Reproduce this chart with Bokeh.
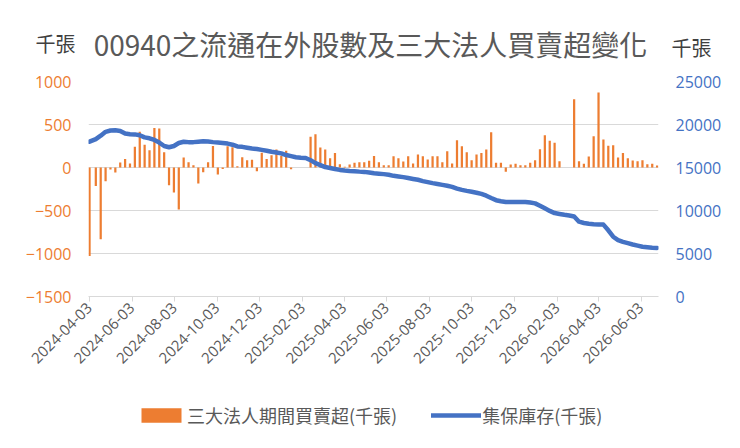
import pandas as pd
from bokeh.plotting import figure
from bokeh.layouts import column
from bokeh.models import (Range1d, LinearAxis, FixedTicker, Label, Legend, LegendItem,
                          DatetimeTickFormatter, ColumnDataSource)
from bokeh.embed import file_html
from bokeh.resources import INLINE

# ---- data ----
first_date = "2024-04-03"
weekly_start = "2024-04-12"
n_weekly = 116

net_buy = [-1030, -215, -835, -160, -23, -58, 58, 100, 47, 240,
           415, 264, 202, 460, 453, 177, -205, -292, -488, 117,
           60, 25, -186, -54, 62, 249, -80, -18, 246, 236,
           15, 118, 85, 90, -43, 172, 98, 143, 210, 137,
           196, -20, 0, 0, 0, 357, 388, 233, 210, 109,
           170, 39, 10, 35, 54, 60, 60, 78, 134, 62,
           25, 27, 132, 109, 70, 132, 47, 151, 132, 93,
           132, 132, 62, 190, 47, 318, 248, 178, 85, 151,
           170, 209, 411, 54, 54, -50, 35, 43, 27, 27,
           54, 85, 213, 376, 310, 287, 74, 0, 0, 795,
           74, 43, 128, 364, 872, 326, 252, 260, 116, 170,
           109, 81, 74, 85, 39, 43, 23]

holdings = [18000, 18300, 18700, 19150, 19300, 19330, 19250, 18950, 18870, 18850,
            18750, 18500, 18400, 18200, 17900, 17500, 17350, 17500, 17850, 18000,
            17950, 17950, 18000, 18050, 18020, 17950, 17900, 17850, 17780, 17650,
            17450, 17400, 17300, 17210, 17150, 17050, 16950, 16830, 16750, 16640,
            16450, 16320, 16200, 16130, 16100, 15850, 15500, 15270, 15050, 14950,
            14830, 14720, 14650, 14600, 14570, 14520, 14490, 14420, 14330, 14280,
            14230, 14150, 14030, 13950, 13880, 13780, 13670, 13570, 13420, 13300,
            13180, 13080, 12980, 12880, 12750, 12550, 12400, 12280, 12180, 12070,
            11930, 11720, 11450, 11200, 11080, 11000, 11000, 11000, 11000, 10990,
            10920, 10830, 10550, 10250, 9950, 9700, 9600, 9500, 9420, 9300,
            8700, 8550, 8450, 8400, 8380, 8360, 7700, 6950, 6550, 6350,
            6200, 6050, 5920, 5780, 5720, 5670, 5650]

tick_labels = ["2024-04-03", "2024-06-03", "2024-08-03", "2024-10-03", "2024-12-03",
               "2025-02-03", "2025-04-03", "2025-06-03", "2025-08-03", "2025-10-03",
               "2025-12-03", "2026-02-03", "2026-04-03", "2026-06-03"]

left_ticks = [-1500, -1000, -500, 0, 500, 1000]
right_ticks = [0, 5000, 10000, 15000, 20000, 25000]

title_text = "00940之流通在外股數及三大法人買賣超變化"
unit_text = "千張"
bar_name = "三大法人期間買賣超(千張)"
line_name = "集保庫存(千張)"

# ---- styles ----
ORANGE = "#ED7D31"
BLUE = "#4472C4"
GRID = "#D9D9D9"
TXT = "#595959"
CJK = "Noto Sans CJK TC"
NUM = "Open Sans"
W = 724
HEAD_H = 69
MAIN_TOP = 12
MAIN_H = 312
FOOT_H = 51


def bare(height):
    f = figure(width=W, height=height, output_backend="svg", toolbar_location=None,
               x_range=Range1d(0, W), y_range=Range1d(0, height),
               x_axis_location=None, y_axis_location=None, min_border=0)
    f.outline_line_color = None
    f.xgrid.visible = False
    f.ygrid.visible = False
    f.frame_align = False
    return f


# ---- header (title + units) ----
head = bare(HEAD_H)
head.add_layout(Label(x=370, y=HEAD_H - 43, text=title_text, text_font=CJK,
                      text_font_size="28px", text_color=TXT,
                      text_align="center", text_baseline="middle"))
head.add_layout(Label(x=55, y=HEAD_H - 43, text=unit_text, text_font=CJK,
                      text_font_size="20px", text_color="#404040",
                      text_align="center", text_baseline="middle"))
head.add_layout(Label(x=691, y=HEAD_H - 47, text=unit_text, text_font=CJK,
                      text_font_size="20px", text_color="#404040",
                      text_align="center", text_baseline="middle"))

# ---- main chart ----
dates = [pd.Timestamp(first_date)] + list(pd.date_range(weekly_start, periods=n_weekly, freq="7D"))
src = ColumnDataSource(dict(date=dates, net=net_buy, hold=holdings))

day = pd.Timedelta(days=1)
bar_w = 3.2 * 24 * 3600 * 1000
p = figure(width=W, height=MAIN_H, x_axis_type="datetime", output_backend="svg",
           toolbar_location=None,
           x_range=Range1d(dates[0] - 1.5 * day, dates[-1] + 2 * day),
           y_range=Range1d(left_ticks[0], left_ticks[-1]),
           min_border_left=88, min_border_right=64, min_border_top=MAIN_TOP,
           min_border_bottom=85)
p.extra_y_ranges = {"right": Range1d(right_ticks[0], right_ticks[-1])}
p.outline_line_color = None
p.frame_align = False

bar_style = dict(fill_color=ORANGE, line_color=None)
line_style = dict(line_color=BLUE, line_width=4.5, line_cap="round", line_join="round")

p.vbar(x="date", top="net", bottom=0, width=bar_w, source=src, **bar_style)
p.line(x="date", y="hold", source=src, y_range_name="right", **line_style)

xa = p.xaxis[0]
xa.ticker = FixedTicker(ticks=[pd.Timestamp(t).value // 10**6 for t in tick_labels])
xa.formatter = DatetimeTickFormatter(days="%Y-%m-%d", months="%Y-%m-%d", years="%Y-%m-%d")
xa.major_label_orientation = 0.785398
xa.major_label_text_font = NUM
xa.major_label_text_font_size = "15px"
xa.major_label_text_color = TXT
xa.axis_line_color = GRID
xa.major_tick_line_color = GRID
xa.major_tick_in = 0
xa.major_tick_out = 5
xa.minor_tick_line_color = None
xa.major_label_standoff = 4

for ax, ticks, color, name in ((p.yaxis[0], left_ticks, ORANGE, None),
                               (LinearAxis(y_range_name="right"), right_ticks, BLUE, "right")):
    ax.ticker = FixedTicker(ticks=ticks)
    ax.major_label_text_color = color
    ax.major_label_text_font = NUM
    ax.major_label_text_font_size = "16px"
    ax.axis_line_color = None
    ax.major_tick_line_color = None
    ax.minor_tick_line_color = None
    ax.major_tick_in = 0
    ax.major_tick_out = 0
    ax.minor_tick_in = 0
    ax.minor_tick_out = 0
    ax.major_label_standoff = 17
    if name:
        p.add_layout(ax, "right")

p.xgrid.grid_line_color = None
p.ygrid.grid_line_color = GRID
p.ygrid.grid_line_width = 1
p.ygrid.ticker = FixedTicker(ticks=left_ticks)

# ---- footer (legend); same data, drawn far outside this strip's ranges ----
foot = bare(FOOT_H)
lb = foot.vbar(x="date", top="net", bottom=0, width=bar_w, source=src, **bar_style)
ll = foot.line(x="date", y="hold", source=src, **line_style)
legend = Legend(items=[LegendItem(label=bar_name, renderers=[lb]),
                       LegendItem(label=line_name, renderers=[ll])],
                orientation="horizontal", location=(136, 4))
legend.label_text_font = CJK
legend.label_text_font_size = "18px"
legend.label_text_color = TXT
legend.glyph_width = 50
legend.glyph_height = 18
legend.label_standoff = 1
legend.spacing = 34
legend.padding = 4
legend.margin = 0
legend.border_line_color = None
legend.background_fill_alpha = 0
foot.add_layout(legend, "center")

page = column(head, p, foot, spacing=0)
html = file_html(page, INLINE)
open("out.html", "w").write(html)
